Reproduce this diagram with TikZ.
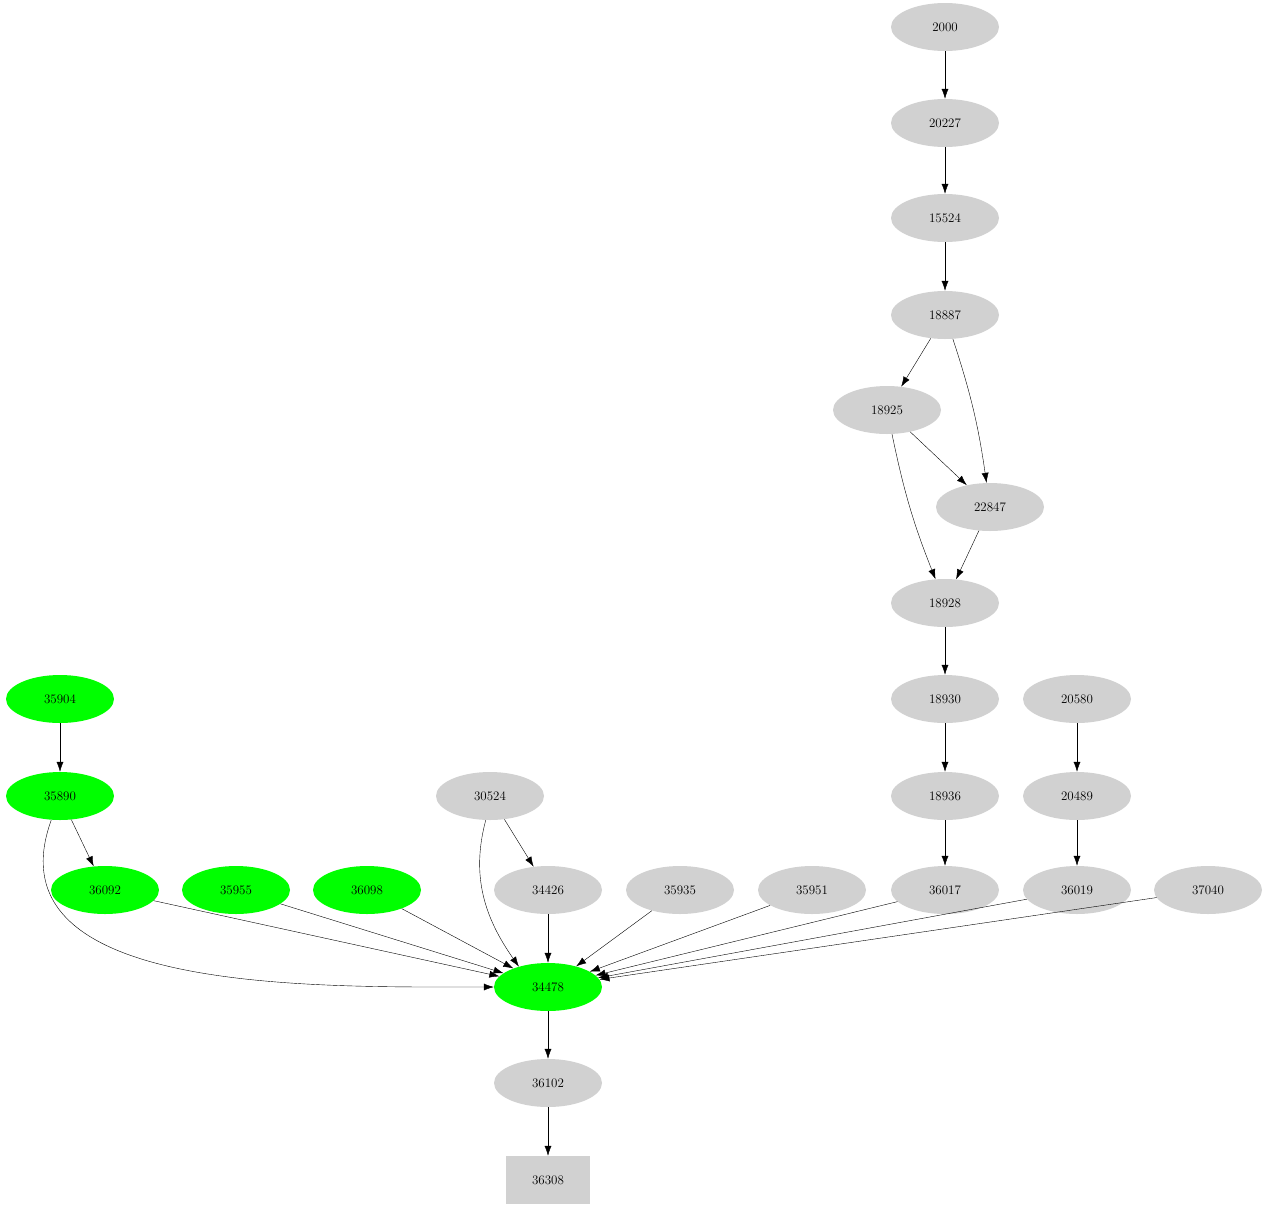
\documentclass[tikz,border=0pt]{standalone}
\usepackage{tikz}
\usetikzlibrary{arrows.meta, shapes.geometric}
\tikzstyle{arrow} = [-{Latex[length=10pt,width=7pt]}]

\begin{document}
\begin{tikzpicture}[
        x=1pt, y=-1pt,
        font=\fontsize{13pt}{15pt}\selectfont,
        every node/.style={ellipse, fill=black!18, minimum width=108pt, minimum height=48pt, inner sep=0pt},
        hit/.style={fill=green}
    ]
        \useasboundingbox (0,0) rectangle (1269,1211);
        % Chain on the right
        \node (n2000) at (945,27) {2000};
        \node (n20227) at (945,123) {20227};
        \node (n15524) at (945,218) {15524};
        \node (n18887) at (945,315) {18887};
        \node (n18925) at (887,410) {18925};
        \node (n22847) at (990,507) {22847};
        \node (n18928) at (945,603) {18928};
        \node (n18930) at (945,699) {18930};
        \node (n18936) at (945,796) {18936};
        \node (n36017) at (945,890) {36017};
        \node (n20580) at (1077,699) {20580};
        \node (n20489) at (1077,796) {20489};
        \node (n36019) at (1077,890) {36019};
        \node (n37040) at (1208,890) {37040};
        % Left and middle
        \node[hit] (n35904) at (60,699) {35904};
        \node[hit] (n35890) at (60,796) {35890};
        \node[hit] (n36092) at (105,890) {36092};
        \node[hit] (n35955) at (236,890) {35955};
        \node[hit] (n36098) at (367,890) {36098};
        \node (n30524) at (490,796) {30524};
        \node (n34426) at (548,890) {34426};
        \node (n35935) at (680,890) {35935};
        \node (n35951) at (812,890) {35951};
        \node[hit] (n34478) at (548,987) {34478};
        \node (n36102) at (548,1083) {36102};
        \node[rectangle, minimum width=84pt] (n36308) at (548,1180) {36308};

        % Arrows
        \draw[arrow] (n2000) -- (n20227);
        \draw[arrow] (n20227) -- (n15524);
        \draw[arrow] (n15524) -- (n18887);
        \draw[arrow] (n18887) -- (n18925);
        \draw[arrow] (n18887) to[bend left=5] (n22847);
        \draw[arrow] (n18925) -- (n22847);
        \draw[arrow] (n18925) to[bend right=5] (n18928);
        \draw[arrow] (n22847) -- (n18928);
        \draw[arrow] (n18928) -- (n18930);
        \draw[arrow] (n18930) -- (n18936);
        \draw[arrow] (n18936) -- (n36017);
        \draw[arrow] (n20580) -- (n20489);
        \draw[arrow] (n20489) -- (n36019);
        \draw[arrow] (n35904) -- (n35890);
        \draw[arrow] (n35890) -- (n36092);
        \draw[arrow] (n35890.-110) to[out=-110, in=180] (n34478.west);
        \draw[arrow] (n30524) -- (n34426);
        \draw[arrow] (n30524.-100) to[out=-105, in=125] (n34478.145);
        \foreach \src in {n36092, n35955, n36098, n34426, n35935, n35951, n36017, n36019, n37040}
            \draw[arrow] (\src) -- (n34478);
        \draw[arrow] (n34478) -- (n36102);
        \draw[arrow] (n36102) -- (n36308);
    \end{tikzpicture}
\end{document}
